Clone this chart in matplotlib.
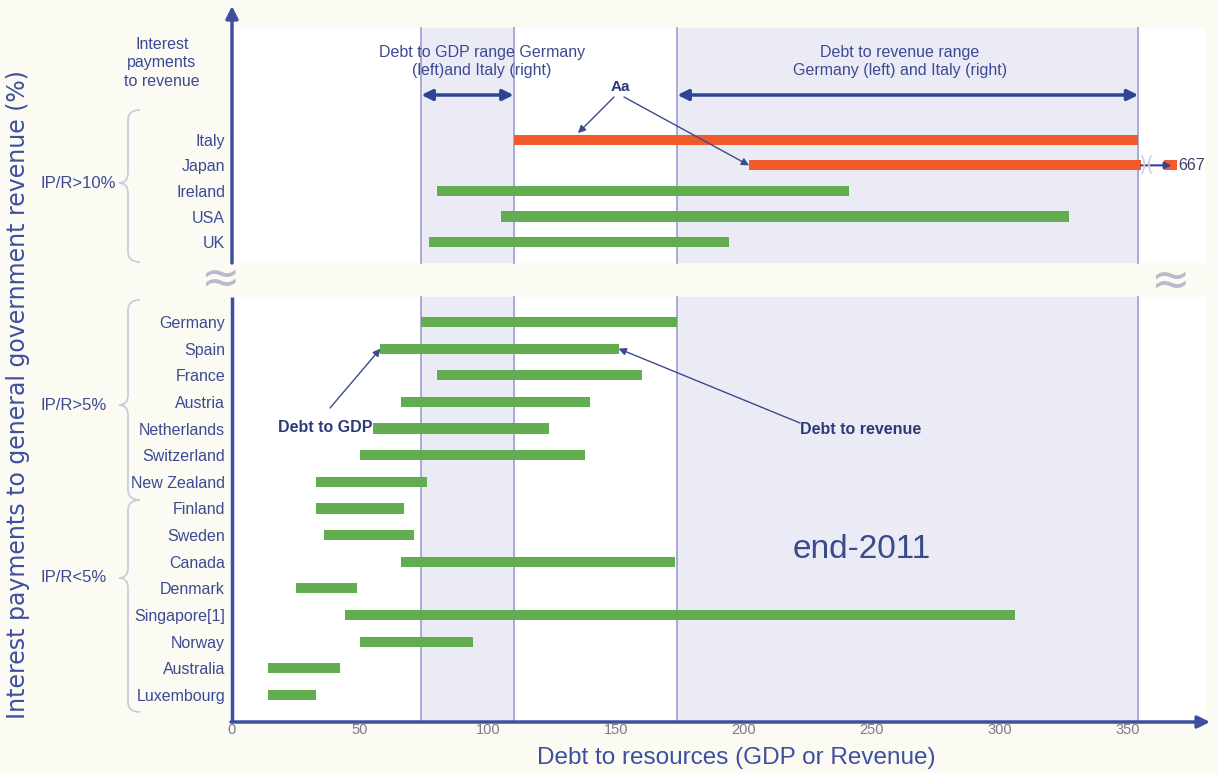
import matplotlib.pyplot as plt
from matplotlib.patches import Rectangle, PathPatch
from matplotlib.path import Path

# data (debt to GDP -> debt to revenue, %)
upper_names = ['Italy', 'Japan', 'Ireland', 'USA', 'UK']
upper_start = [110, 202, 80, 105, 77]
upper_end = [354, 667, 241, 327, 194]
upper_color = ['red', 'red', 'green', 'green', 'green']

lower_names = ['Germany', 'Spain', 'France', 'Austria', 'Netherlands', 'Switzerland',
               'New Zealand', 'Finland', 'Sweden', 'Canada', 'Denmark', 'Singapore[1]',
               'Norway', 'Australia', 'Luxembourg']
lower_start = [74, 58, 80, 66, 55, 50, 33, 33, 36, 66, 25, 44, 50, 14, 14]
lower_end = [174, 151, 160, 140, 124, 138, 76, 67, 71, 173, 49, 306, 94, 42, 33]

xticks = [0, 50, 100, 150, 200, 250, 300, 350]

# colours
GREEN = '#62ad4f'
RED = '#f15a29'
NAVY = '#2f4594'
TXT = '#3c4a94'
SHADE = '#ebebf6'
VLINE = '#a9a9d6'
BG = '#fbfbf3'

# pixel -> data helpers for layout only
X0, SX = 232, 2.56
Y0, SY = 322, 26.64
def dx(px):
    return (px - X0) / SX
def dy(py):
    return (py - Y0) / SY

fig = plt.figure(figsize=(12.18, 7.73), dpi=100)
fig.patch.set_facecolor(BG)
ax = fig.add_axes([232 / 1218, 1 - 722 / 773, (1205 - 232) / 1218, (722 - 8) / 773])
ax.set_facecolor(BG)
ax.set_xlim(0, dx(1205))
ax.set_ylim(dy(722), dy(8))

# row positions: upper block slightly tighter
upper_pos = [-3 - 0.96 * (len(upper_names) - 1 - i) for i in range(len(upper_names))]
lower_pos = list(range(len(lower_names)))

ger = lower_names.index('Germany')
ita = upper_names.index('Italy')
lines_at = [lower_start[ger], upper_start[ita], lower_end[ger], upper_end[ita]]

# panels, shaded ranges, range lines
panels = [(dy(28), dy(263)), (dy(297), dy(722))]
xmax = dx(1205)
for top, bot in panels:
    ax.add_patch(Rectangle((0, top), xmax, bot - top, fc='white', ec='none', zorder=0))
    ax.add_patch(Rectangle((lines_at[0], top), lines_at[1] - lines_at[0], bot - top,
                           fc=SHADE, ec='none', zorder=0.5))
    ax.add_patch(Rectangle((lines_at[2], top), lines_at[3] - lines_at[2], bot - top,
                           fc=SHADE, ec='none', zorder=0.5))
    for v in lines_at:
        ax.plot([v, v], [top, bot], color=VLINE, lw=1.4, zorder=0.8)

# bars
cap = 355
for p, s, e, c in zip(upper_pos, upper_start, upper_end, upper_color):
    col = RED if c == 'red' else GREEN
    ax.barh(p, min(e, cap) - s, left=s, height=0.38, color=col, zorder=2)
ax.barh(lower_pos, [e - s for s, e in zip(lower_start, lower_end)], left=lower_start,
        height=0.38, color=GREEN, zorder=2)

# Japan broken bar -> 667
jp = upper_names.index('Japan')
ax.barh(upper_pos[jp], 5, left=cap + 9, height=0.38, color=RED, zorder=2)
ax.annotate('', xy=(cap + 12, upper_pos[jp]), xytext=(cap, upper_pos[jp]),
            arrowprops=dict(arrowstyle='-|>', color=NAVY, lw=1.5, mutation_scale=10,
                            shrinkA=0, shrinkB=0), zorder=3)
ax.text(cap + 14.5, upper_pos[jp], '%d' % upper_end[jp], fontsize=11.5, color='#3a3f66',
        va='center', ha='left', family='Liberation Sans')
ax.text(dx(1146), upper_pos[jp], ')(', fontsize=15, color='#cfcfe0', ha='center',
        va='center', family='DejaVu Sans', zorder=3)

# ticks
ax.set_xticks(xticks)
ax.set_xticklabels([str(t) for t in xticks], color='#7b7b8a', fontsize=10.5,
                   family='Liberation Sans')
ax.set_yticks(upper_pos + lower_pos)
ax.set_yticklabels(upper_names + lower_names, color=TXT, fontsize=11.5,
                   family='Liberation Sans')
ax.tick_params(length=0)
ax.tick_params(axis='x', pad=1)
ax.tick_params(axis='y', pad=5)
for s in ax.spines.values():
    s.set_visible(False)

# range arrows and texts
for a, b, t, cx in [(lines_at[0], lines_at[1],
                     'Debt to GDP range Germany\n(left)and Italy (right)', 482),
                    (lines_at[2], lines_at[3],
                     'Debt to revenue range\nGermany (left) and Italy (right)', 900)]:
    ax.annotate('', xy=(b, dy(95)), xytext=(a, dy(95)),
                arrowprops=dict(arrowstyle='<|-|>', color=NAVY, lw=2.5, mutation_scale=16,
                                shrinkA=0, shrinkB=0), zorder=3)
    ax.text(dx(cx), dy(61), t, ha='center', va='center', fontsize=11.5, color=TXT,
            family='Liberation Sans', linespacing=1.25)

arw = dict(arrowstyle='-|>', color='#3b4a8a', lw=1, mutation_scale=11, shrinkA=0, shrinkB=0)
ax.text(dx(620), dy(87), 'Aa', fontsize=11, fontweight='bold', color='#2d3a78',
        ha='center', va='center', family='Liberation Sans')
ax.annotate('', xy=(dx(578), upper_pos[ita] - 0.25), xytext=(dx(614), dy(97)),
            arrowprops=arw, zorder=3)
ax.annotate('', xy=(upper_start[jp], upper_pos[jp]), xytext=(dx(624), dy(97)),
            arrowprops=arw, zorder=3)

sp = lower_names.index('Spain')
ax.text(dx(278), dy(428), 'Debt to GDP', fontsize=11.5, fontweight='bold', color='#2d3a78',
        ha='left', va='center', family='Liberation Sans', zorder=1)
ax.annotate('', xy=(lower_start[sp], lower_pos[sp]), xytext=(dx(330), dy(408)),
            arrowprops=arw, zorder=3)
ax.text(dx(800), dy(430), 'Debt to revenue', fontsize=11.5, fontweight='bold',
        color='#2d3a78', ha='left', va='center', family='Liberation Sans')
ax.annotate('', xy=(lower_end[sp], lower_pos[sp]), xytext=(dx(800), dy(423)),
            arrowprops=arw, zorder=3)

ax.text(dx(862), dy(550), 'end-2011', fontsize=24, color='#3a4a8c', ha='center',
        va='center', family='Liberation Sans')

# overlay in pixel coordinates for axes lines, braces and outer labels
ov = fig.add_axes([0, 0, 1, 1])
ov.set_xlim(0, 1218)
ov.set_ylim(773, 0)
ov.axis('off')
ov.patch.set_alpha(0)

axis_arrow = dict(arrowstyle='-|>', color='#3d4f9e', lw=2.5, mutation_scale=18,
                  shrinkA=0, shrinkB=0)
ov.plot([232, 232], [722, 297], color='#3d4f9e', lw=2.5, solid_capstyle='butt')
ov.annotate('', xy=(232, 6), xytext=(232, 263), arrowprops=axis_arrow)
ov.annotate('', xy=(1210, 722), xytext=(231, 722), arrowprops=axis_arrow)

ov.text(221, 281, '\u2248', fontsize=34, color='#b9b9cc', ha='center', va='center',
        family='DejaVu Sans')
ov.text(1171, 283, '\u2248', fontsize=34, color='#b9b9cc', ha='center', va='center',
        family='DejaVu Sans')


def brace(x, y0, y1, ym, tip):
    r = 10
    verts = [(x + 12, y0), (x, y0), (x, y0 + r),
             (x, ym - r), (x, ym), (tip, ym),
             (x, ym), (x, ym + r),
             (x, y1 - r), (x, y1), (x + 12, y1)]
    codes = [Path.MOVETO, Path.CURVE3, Path.CURVE3,
             Path.LINETO, Path.CURVE3, Path.CURVE3,
             Path.CURVE3, Path.CURVE3,
             Path.LINETO, Path.CURVE3, Path.CURVE3]
    ov.add_patch(PathPatch(Path(verts, codes), fc='none', ec='#c9c9d9', lw=1.2))


brace(128, 110, 262, 183, 119)
brace(128, 300, 500, 405, 119)
brace(128, 500, 712, 578, 119)

for t, y in [('IP/R>10%', 183), ('IP/R>5%', 405), ('IP/R<5%', 577)]:
    ov.text(40, y, t, fontsize=12, color=TXT, ha='left', va='center',
            family='Liberation Sans')

ov.text(162, 63, 'Interest\npayments\nto revenue', fontsize=11.5, color=TXT, ha='center',
        va='center', family='Liberation Sans', linespacing=1.3)

ov.text(18, 395, 'Interest payments to general government revenue (%)', rotation=90,
        fontsize=17, color='#3d4fa0', ha='center', va='center', family='DejaVu Sans')
ov.text(736, 758, 'Debt to resources (GDP or Revenue)', fontsize=17.5, color='#3d4fa0',
        ha='center', va='center', family='Liberation Sans')

fig.savefig('out.png', dpi=100, facecolor=BG)
